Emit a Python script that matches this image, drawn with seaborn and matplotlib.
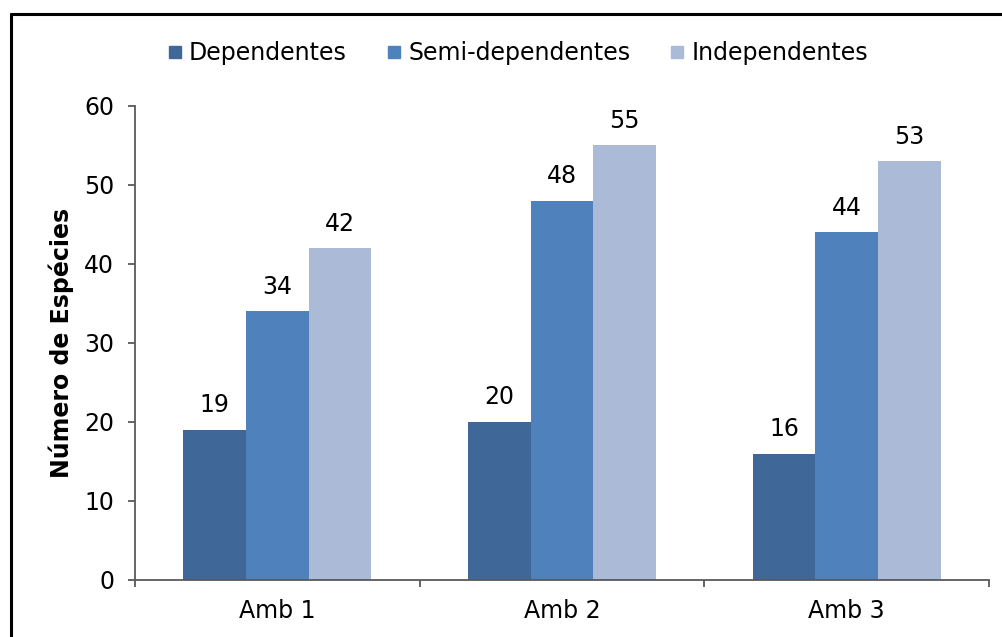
import pandas as pd
import matplotlib.pyplot as plt
import seaborn as sns
from matplotlib.lines import Line2D
from matplotlib.ticker import FixedLocator

# Data
ambientes = ['Amb 1', 'Amb 2', 'Amb 3']
grupos = ['Dependentes', 'Semi-dependentes', 'Independentes']
dependentes = [19, 20, 16]
semi_dependentes = [34, 48, 44]
independentes = [42, 55, 53]

cores = {'Dependentes': '#3F6899', 'Semi-dependentes': '#4F81BD', 'Independentes': '#AABAD7'}

df = pd.DataFrame({
    'Ambiente': ambientes * 3,
    'Grupo': ['Dependentes'] * 3 + ['Semi-dependentes'] * 3 + ['Independentes'] * 3,
    'Valor': dependentes + semi_dependentes + independentes,
})

sns.set_style('white')
plt.rcParams['font.family'] = ['DejaVu Sans']
plt.rcParams['text.color'] = 'black'

fs = 17

fig = plt.figure(figsize=(10.03, 6.37), dpi=100)
ax = fig.add_axes([0.1346, 0.0895, 0.8514, 0.7441])

sns.barplot(data=df, x='Ambiente', y='Valor', hue='Grupo', order=ambientes,
            hue_order=grupos, palette=cores, width=0.66, saturation=1,
            errorbar=None, legend=False, ax=ax, edgecolor='none')

# Value labels above the bars
for container in ax.containers:
    ax.bar_label(container, fmt='%d', padding=9, fontsize=fs, color='black')

ax.set_ylim(0, 60)
ax.set_xlim(-0.5, 2.5)
ax.set_yticks(range(0, 61, 10))
ax.set_xlabel('')
ax.set_ylabel('Número de Espécies', fontsize=fs, fontweight='bold', labelpad=7,
              color='black')

sns.despine(ax=ax)
for side in ['left', 'bottom']:
    ax.spines[side].set_color('#595959')
    ax.spines[side].set_linewidth(1.3)

ax.tick_params(axis='y', which='major', left=True, length=5, width=1.3,
               color='#595959', labelsize=fs, pad=10, labelcolor='black')
ax.tick_params(axis='x', which='major', bottom=False, length=0, labelsize=fs,
               pad=14, labelcolor='black')
ax.xaxis.set_minor_locator(FixedLocator([-0.5, 0.5, 1.5, 2.5]))
ax.tick_params(axis='x', which='minor', bottom=True, length=5, width=1.3,
               color='#595959', direction='out')

# Legend with square markers
handles = [Line2D([], [], marker='s', linestyle='none', markersize=8,
                  markerfacecolor=cores[g], markeredgecolor=cores[g]) for g in grupos]
leg = fig.legend(handles, grupos, loc='center', bbox_to_anchor=(0.517, 0.917), ncol=3,
                 frameon=False, fontsize=fs, handlelength=0.5, handletextpad=0.35,
                 columnspacing=1.75)
for t in leg.get_texts():
    t.set_color('black')

# Outer frame (left and top edges visible)
fig.add_artist(Line2D([0.011, 0.011], [0.0, 0.978], transform=fig.transFigure,
                      color='black', linewidth=2.2))
fig.add_artist(Line2D([0.011, 1.0], [0.978, 0.978], transform=fig.transFigure,
                      color='black', linewidth=2.2))

fig.savefig('out.png', dpi=100)
